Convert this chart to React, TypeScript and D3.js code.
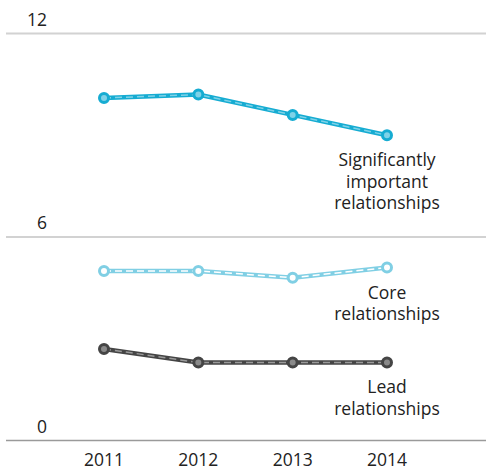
import React from "react";
import * as d3 from "d3";

const years = ["2011", "2012", "2013", "2014"];
const yTicks = [0, 6, 12];
const significant = [10.1, 10.2, 9.6, 9.0];
const core = [5.0, 5.0, 4.8, 5.1];
const lead = [2.7, 2.3, 2.3, 2.3];

const seriesDefs = [
  { name: "significant", values: significant, label: ["Significantly", "important", "relationships"], outer: "#16acd2", inner: "#7fd2e8", fill: "#7fd2e8" },
  { name: "core", values: core, label: ["Core", "relationships"], outer: "#80cfe4", inner: "#ffffff", fill: "#ffffff" },
  { name: "lead", values: lead, label: ["Lead", "relationships"], outer: "#454545", inner: "#9a9a9a", fill: "#8a8a8a" },
];

const W = 486;
const H = 470;
const FONT = "'Open Sans', 'Noto Sans', sans-serif";

export default function App() {
  const x = d3.scalePoint<string>().domain(years).range([104, 387]);
  const y = d3.scaleLinear().domain([0, 12]).range([440.5, 33.5]);
  const line = d3
    .line<number>()
    .x((_, i) => x(years[i]) as number)
    .y((d) => y(d));

  return (
    <svg
      width={W}
      height={H}
      style={{ position: "absolute", left: 0, top: 0, background: "#fff" }}
      fontFamily={FONT}
    >
      {yTicks.map((t) => (
        <g key={t}>
          <line
            x1={6}
            x2={486}
            y1={y(t)}
            y2={y(t)}
            stroke={t === 0 ? "#9a9a9a" : "#d2d2d2"}
            strokeWidth={t === 0 ? 1.5 : 2}
          />
          <text x={47} y={y(t) - 8} textAnchor="end" fontSize={17.5} fill="#222">
            {t}
          </text>
        </g>
      ))}
      {years.map((yr) => (
        <text key={yr} x={x(yr) as number} y={466} textAnchor="middle" fontSize={17.5} fill="#222">
          {yr}
        </text>
      ))}
      {seriesDefs.map((s) => {
        const d = line(s.values) || "";
        const lastX = x(years[years.length - 1]) as number;
        const lastY = y(s.values[s.values.length - 1]);
        return (
          <g key={s.name}>
            <path d={d} fill="none" stroke={s.outer} strokeWidth={4.5} />
            <path d={d} fill="none" stroke={s.inner} strokeWidth={1.5} strokeDasharray="7 4" />
            {s.values.map((v, i) => (
              <circle
                key={i}
                cx={x(years[i]) as number}
                cy={y(v)}
                r={4.5}
                fill={s.fill}
                stroke={s.outer}
                strokeWidth={3}
              />
            ))}
            {s.label.map((l, i) => (
              <text
                key={i}
                x={lastX}
                y={lastY + 31 + i * 21.5}
                textAnchor="middle"
                fontSize={17.5}
                fill="#222"
              >
                {l}
              </text>
            ))}
          </g>
        );
      })}
    </svg>
  );
}
